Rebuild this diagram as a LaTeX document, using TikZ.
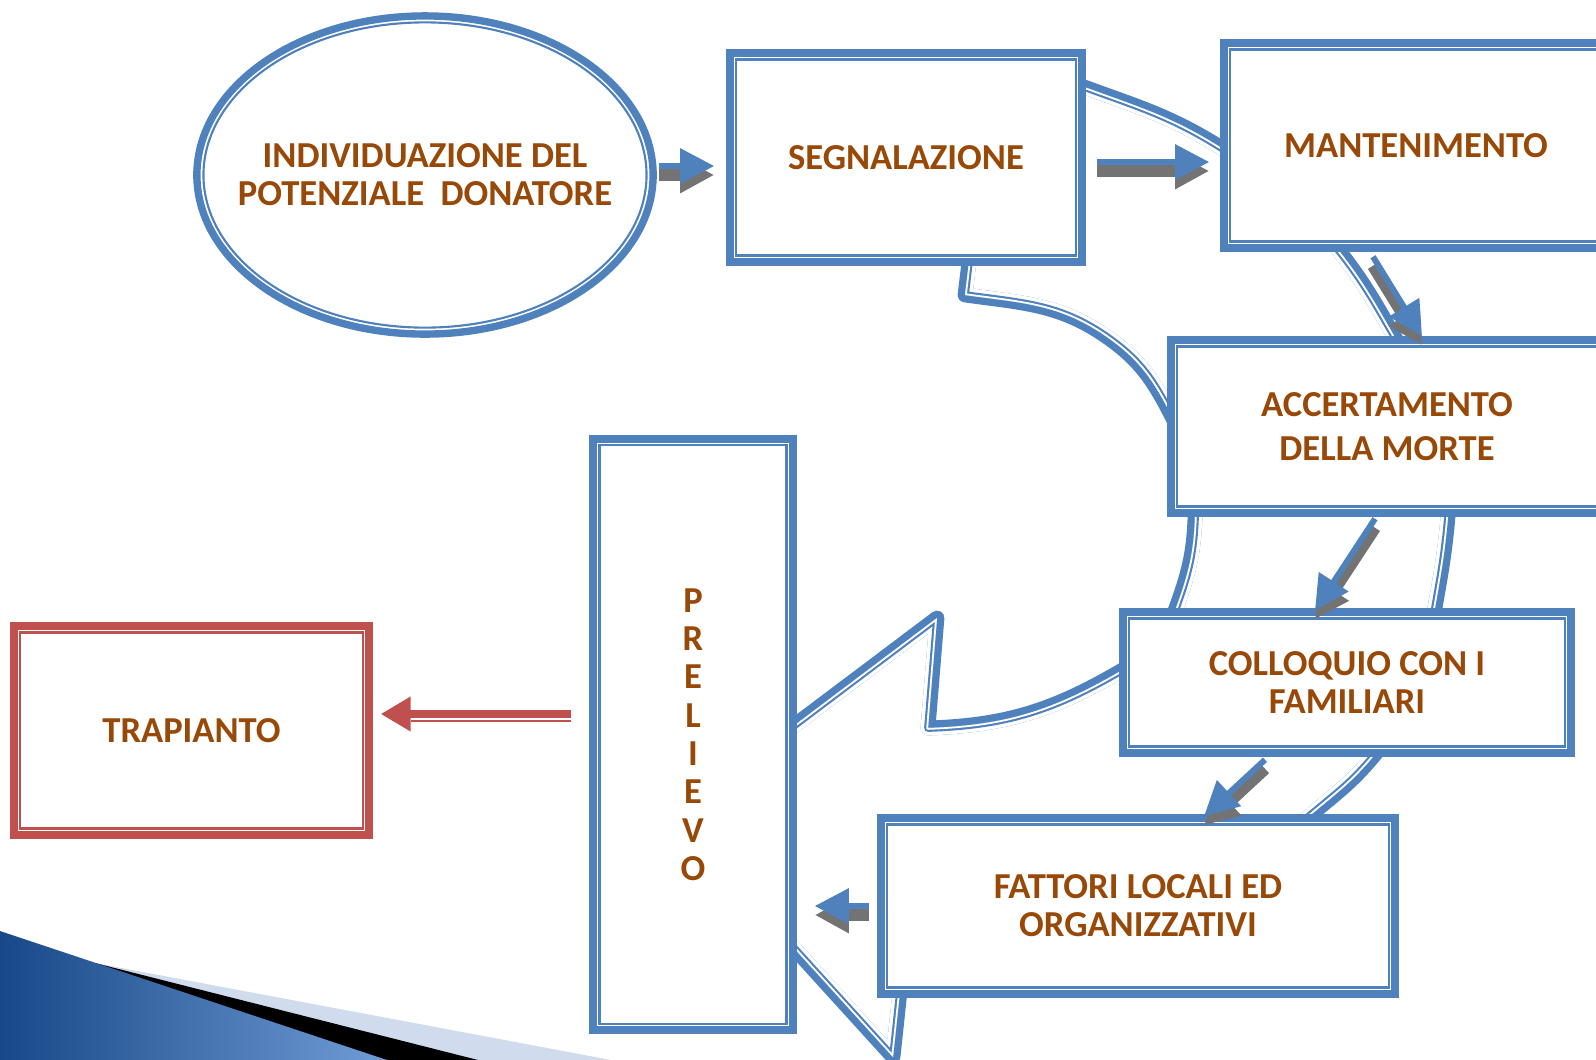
\documentclass[tikz,border=0pt]{standalone}
\usepackage{fontspec}
\setmainfont{Carlito}
\usetikzlibrary{shapes.geometric,arrows.meta}

\definecolor{boxblue}{RGB}{79,129,189}
\definecolor{trapred}{RGB}{192,80,77}
\definecolor{textbrown}{RGB}{152,72,7}
\definecolor{slidedark}{RGB}{24,72,136}
\definecolor{slidelight}{RGB}{112,156,214}
\definecolor{slidepale}{RGB}{208,219,238}

% outline of the big bent arrow (y grows upwards, so rows are negative)
\newcommand{\ringarrowpath}{(1010,-72) to[out=-8,in=160] (1087,-88)
  to[out=-20,in=148] (1220,-147) to[out=-32,in=128] (1340,-252)
  to[out=-52,in=120] (1393,-334) to[out=-60,in=85] (1448,-517)
  to[out=-95,in=80] (1435,-608) to[out=-100,in=50] (1372,-758)
  to[out=-130,in=40] (1313,-813) to[out=-140,in=0] (905,-945)
  -- (893,-1057) -- (674,-816) -- (937,-618) -- (928,-728)
  to[out=2,in=-150] (1119,-672)
  to[out=30,in=-110] (1176,-608) to[out=70,in=-92] (1195,-517)
  to[out=88,in=-62] (1167,-407) to[out=118,in=-35] (1107,-337)
  to[out=145,in=-8] (965,-295) -- (974,-220) -- cycle}

\begin{document}
\begin{tikzpicture}[
    x=0.01cm, y=0.01cm,
    label text/.style={font=\bfseries\fontsize{10.4}{10.8}\selectfont, text=textbrown, align=center},
    dblbox/.style={rectangle, draw=#1, fill=white, line width=2.1pt, inner sep=0pt, label text,
      path picture={\draw[#1, line width=0.6pt]
        ([shift={(1.86pt,-1.86pt)}]path picture bounding box.north west) rectangle
        ([shift={(-1.86pt,1.86pt)}]path picture bounding box.south east);}},
    dblellipse/.style={ellipse, draw=boxblue, fill=white, line width=2.1pt, inner sep=0pt,
      path picture={\draw[boxblue, line width=0.6pt]
        (path picture bounding box.center) ellipse [x radius=63pt, y radius=43.4pt];}},
    flowarrow/.style={boxblue, line width=1.7pt, -{Triangle[length=9.7pt,width=9.7pt]},
      preaction={draw=black!55, line width=3.4pt, transform canvas={yshift=-0.09cm}}},
    backarrow/.style={trapred, line width=2pt, -{Triangle[length=8.5pt,width=9.4pt]}}
  ]
  \useasboundingbox (0,0) rectangle (1596,-1060);
  \clip (0,0) rectangle (1596,-1060);

  % slide corner
  \fill[slidepale] (95,-963) -- (611,-1060) -- (0,-1060) -- cycle;
  \fill[black] (95,-963) -- (478,-1060) -- (0,-1060) -- cycle;
  \shade[left color=slidedark, right color=slidelight] (0,-931) -- (387,-1060) -- (0,-1060) -- cycle;

  % big bent arrow, thick line outside and thin line inside
  \draw[boxblue, line width=4.2pt, line join=round] \ringarrowpath;
  \begin{scope}
    \clip \ringarrowpath;
    \draw[white, line width=4.2pt, line join=round] \ringarrowpath;
    \draw[boxblue, line width=2.2pt, line join=round] \ringarrowpath;
    \draw[white, line width=1pt, line join=round] \ringarrowpath;
  \end{scope}

  % steps
  \node[dblellipse, minimum width=4.56cm, minimum height=3.18cm] (ell) at (425,-175) {};
  \node[label text] (elltext) at (ell.center) {INDIVIDUAZIONE DEL\\POTENZIALE\ \ DONATORE};
  \node[dblbox=boxblue, minimum width=3.52cm, minimum height=2.09cm] (seg) at (906,-157.5) {SEGNALAZIONE};
  \node[dblbox=boxblue, minimum width=3.84cm, minimum height=2.05cm] (mant) at (1416,-145.5) {MANTENIMENTO};
  \node[dblbox=boxblue, minimum width=4.32cm, minimum height=1.73cm] (acc) at (1387,-426.5)
    {ACCERTAMENTO\\[1.6pt]DELLA MORTE};
  \node[dblbox=boxblue, minimum width=4.48cm, minimum height=1.41cm] (coll) at (1347,-682.5)
    {COLLOQUIO CON I\\FAMILIARI};
  \node[dblbox=boxblue, minimum width=5.14cm, minimum height=1.76cm] (fatt) at (1138,-906)
    {FATTORI LOCALI ED\\ORGANIZZATIVI};
  \node[dblbox=boxblue, minimum width=2.0cm, minimum height=5.91cm,
    font=\bfseries\fontsize{10.4}{10.9}\selectfont] (prel) at (693,-734.5)
    {P\\R\\E\\L\\I\\E\\V\\O};
  \node[dblbox=trapred, minimum width=3.55cm, minimum height=2.09cm] (trap) at (191.5,-730.5) {TRAPIANTO};

  % arrows
  \draw[flowarrow] ([shift={(2,9)}]ell.east) -- ([shift={(-12,-8.5)}]seg.west);
  \draw[flowarrow] ([shift={(11,-4.5)}]seg.east) -- ([shift={(-11,-16.5)}]mant.west);
  \draw[flowarrow] ([shift={(-43,-5)}]mant.south) -- ([shift={(35,0)}]acc.north);
  \draw[flowarrow] ([shift={(-12,-2)}]acc.south) -- ([shift={(-32,-2)}]coll.north);
  \draw[flowarrow] ([shift={(-82,-3)}]coll.south) -- ([shift={(66,-2)}]fatt.north);
  \draw[flowarrow] ([shift={(-8,0)}]fatt.west) -- ([shift={(18,-171.5)}]prel.east);
  \draw[backarrow] ([shift={(-18,20.5)}]prel.west) -- ([shift={(8,16.5)}]trap.east);
  \draw[trapred, line width=0.6pt] ([shift={(-18,13.5)}]prel.west) -- ([shift={(38,9.5)}]trap.east);
\end{tikzpicture}
\end{document}
